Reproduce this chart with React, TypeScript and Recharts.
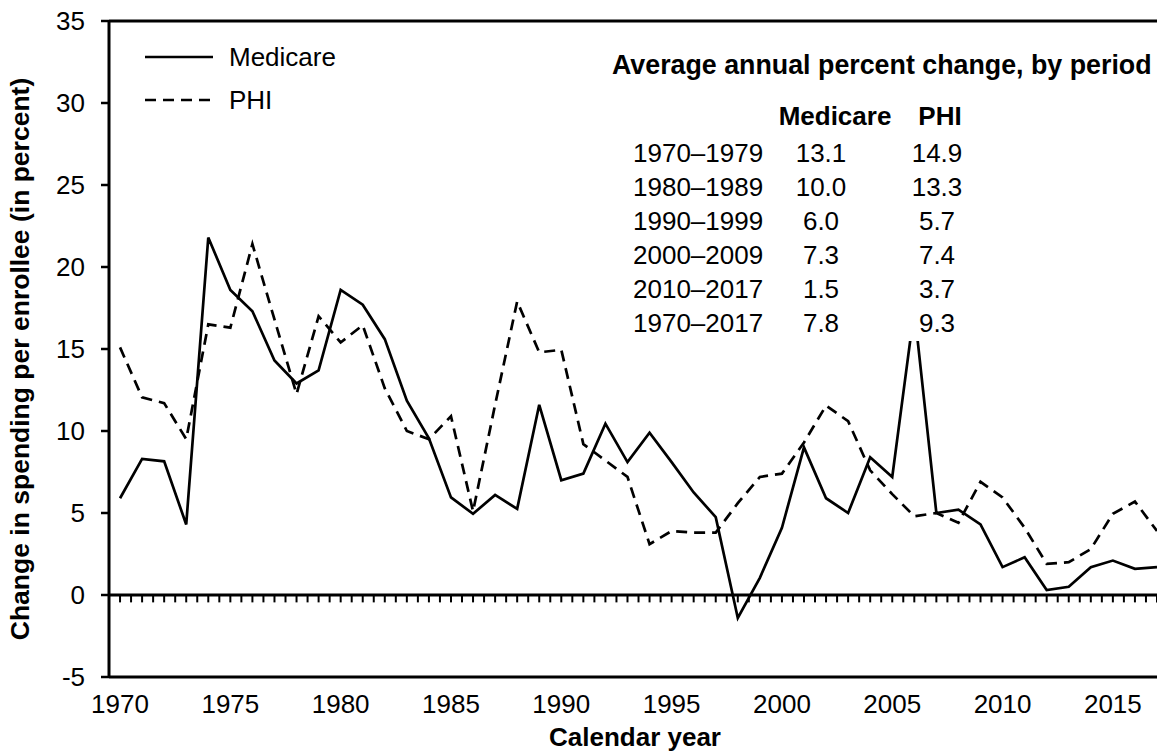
import { LineChart, Line, XAxis, YAxis, ReferenceLine, Legend } from 'recharts';

const W = 1157;
const H = 752;
const FONT = '"Liberation Sans", Arial, Helvetica, sans-serif';

const years = [
    1970, 1971, 1972, 1973, 1974, 1975, 1976, 1977, 1978, 1979,
    1980, 1981, 1982, 1983, 1984, 1985, 1986, 1987, 1988, 1989,
    1990, 1991, 1992, 1993, 1994, 1995, 1996, 1997, 1998, 1999,
    2000, 2001, 2002, 2003, 2004, 2005, 2006, 2007, 2008, 2009,
    2010, 2011, 2012, 2013, 2014, 2015, 2016, 2017,
];

const medicare = [
    5.9, 8.3, 8.15, 4.3, 21.8, 18.6, 17.3, 14.3, 12.9, 13.7,
    18.6, 17.7, 15.6, 11.85, 9.55, 5.95, 4.95, 6.1, 5.25, 11.6,
    7.0, 7.4, 10.45, 8.1, 9.9, 8.1, 6.25, 4.75, -1.4, 1.05,
    4.1, 9.0, 5.9, 5.0, 8.4, 7.2, 17.4, 5.0, 5.2, 4.3,
    1.7, 2.3, 0.3, 0.5, 1.7, 2.1, 1.6, 1.7,
];

const phi = [
    15.1, 12.05, 11.7, 9.5, 16.5, 16.3, 21.4, 16.8, 12.25, 17.0,
    15.4, 16.45, 12.6, 10.0, 9.5, 10.9, 5.1, 11.6, 17.9, 14.8,
    14.95, 9.2, 8.2, 7.2, 3.1, 3.9, 3.8, 3.8, 5.6, 7.2,
    7.4, 9.3, 11.55, 10.6, 7.6, 6.15, 4.8, 5.0, 4.4, 6.9,
    5.95, 4.1, 1.9, 2.0, 2.8, 4.95, 5.7, 3.9,
];

const xTicks = [1970, 1975, 1980, 1985, 1990, 1995, 2000, 2005, 2010, 2015];
const yTicks = [-5, 0, 5, 10, 15, 20, 25, 30, 35];

// summary table
const periods = ['1970–1979', '1980–1989', '1990–1999', '2000–2009', '2010–2017', '1970–2017'];
const medicareAvg = ['13.1', '10.0', '6.0', '7.3', '1.5', '7.8'];
const phiAvg = ['14.9', '13.3', '5.7', '7.4', '3.7', '9.3'];

const data = years.map((year, i) => ({ year, medicare: medicare[i], phi: phi[i] }));

// small tick marks hanging off the zero line, every half year
const zeroTicks = years.flatMap((y) => [y, y + 0.5]).filter((t) => t <= 2017);

const XTick = (props: any) => {
    const { x, y, payload } = props;
    return (
        <text x={x} y={y} textAnchor="middle" dominantBaseline="central" fontSize={26} fill="#000" fontFamily={FONT}>
            {payload.value}
        </text>
    );
};

const YTick = (props: any) => {
    const { x, y, payload } = props;
    return (
        <text x={x} y={y} textAnchor="end" dominantBaseline="central" fontSize={26} fill="#000" fontFamily={FONT}>
            {payload.value}
        </text>
    );
};

const LegendBox = () => (
    <svg width={230} height={80} style={{ display: 'block', overflow: 'visible' }}>
        <line x1={5} y1={17} x2={73} y2={17} stroke="#000" strokeWidth={2.7} />
        <text x={89} y={17} dominantBaseline="central" fontSize={26} fontFamily={FONT}>Medicare</text>
        <line x1={5} y1={60} x2={70} y2={60} stroke="#000" strokeWidth={2.7} strokeDasharray="11 7" />
        <text x={89} y={60} dominantBaseline="central" fontSize={26} fontFamily={FONT}>PHI</text>
    </svg>
);

const rowTop = (i: number) => 98 + i * 33.9;

const SummaryTable = () => (
    <div
        style={{
            position: 'absolute',
            left: 605,
            top: 40,
            width: 552,
            height: 301,
            background: '#fff',
            fontFamily: FONT,
            fontSize: 26,
            lineHeight: '30px',
            color: '#000',
        }}
    >
        <div style={{ position: 'absolute', left: 7, top: 10, fontWeight: 'bold', fontSize: 26.8, whiteSpace: 'nowrap' }}>
            Average annual percent change, by period
        </div>
        <div style={{ position: 'absolute', left: 170, width: 120, top: 61, textAlign: 'center', fontWeight: 'bold' }}>
            Medicare
        </div>
        <div style={{ position: 'absolute', left: 295, width: 80, top: 61, textAlign: 'center', fontWeight: 'bold' }}>
            PHI
        </div>
        {periods.map((p, i) => (
            <div key={p}>
                <div style={{ position: 'absolute', left: 28, top: rowTop(i), whiteSpace: 'nowrap' }}>{p}</div>
                <div style={{ position: 'absolute', left: 166, width: 100, top: rowTop(i), textAlign: 'center' }}>
                    {medicareAvg[i]}
                </div>
                <div style={{ position: 'absolute', left: 292, width: 80, top: rowTop(i), textAlign: 'center' }}>
                    {phiAvg[i]}
                </div>
            </div>
        ))}
    </div>
);

export default function App() {
    return (
        <div style={{ position: 'absolute', left: 0, top: 0, width: W, height: H, background: '#fff', fontFamily: FONT }}>
            <LineChart width={W} height={H} data={data} margin={{ top: 21, right: 0, bottom: 0, left: 0 }}>
                <XAxis
                    dataKey="year"
                    type="number"
                    domain={[1969.5, 2017]}
                    ticks={xTicks}
                    interval={0}
                    allowDataOverflow
                    height={75}
                    tickLine={false}
                    tickSize={0}
                    tickMargin={27}
                    axisLine={{ stroke: '#000', strokeWidth: 3 }}
                    tick={<XTick />}
                    label={{
                        value: 'Calendar year',
                        position: 'insideBottom',
                        offset: 6,
                        fontSize: 26,
                        fontWeight: 'bold',
                        fill: '#000',
                        fontFamily: FONT,
                        dx: 2,
                    }}
                />
                <YAxis
                    type="number"
                    domain={[-5, 35]}
                    ticks={yTicks}
                    interval={0}
                    allowDataOverflow
                    width={109}
                    tickSize={8}
                    tickMargin={16}
                    tickLine={{ stroke: '#000', strokeWidth: 2.5 }}
                    axisLine={{ stroke: '#000', strokeWidth: 3 }}
                    tick={<YTick />}
                    label={{
                        value: 'Change in spending per enrollee (in percent)',
                        angle: -90,
                        position: 'insideLeft',
                        offset: 20,
                        dy: 10,
                        fontSize: 26.5,
                        fontWeight: 'bold',
                        fill: '#000',
                        fontFamily: FONT,
                        style: { textAnchor: 'middle' },
                    }}
                />
                <ReferenceLine y={35} stroke="#000" strokeWidth={3} />
                <ReferenceLine y={0} stroke="#000" strokeWidth={3} />
                {zeroTicks.map((t) => (
                    <ReferenceLine
                        key={t}
                        segment={[{ x: t, y: 0 }, { x: t, y: -0.45 }]}
                        stroke="#000"
                        strokeWidth={2}
                        ifOverflow="visible"
                    />
                ))}
                <Legend
                    layout="vertical"
                    align="center"
                    verticalAlign="middle"
                    wrapperStyle={{ top: 40, left: 140, width: 230, height: 80 }}
                    content={() => <LegendBox />}
                />
                <Line
                    type="linear"
                    dataKey="medicare"
                    stroke="#000"
                    strokeWidth={2.7}
                    dot={false}
                    activeDot={false}
                    isAnimationActive={false}
                />
                <Line
                    type="linear"
                    dataKey="phi"
                    stroke="#000"
                    strokeWidth={2.7}
                    strokeDasharray="11 7"
                    dot={false}
                    activeDot={false}
                    isAnimationActive={false}
                />
            </LineChart>
            <SummaryTable />
        </div>
    );
}
